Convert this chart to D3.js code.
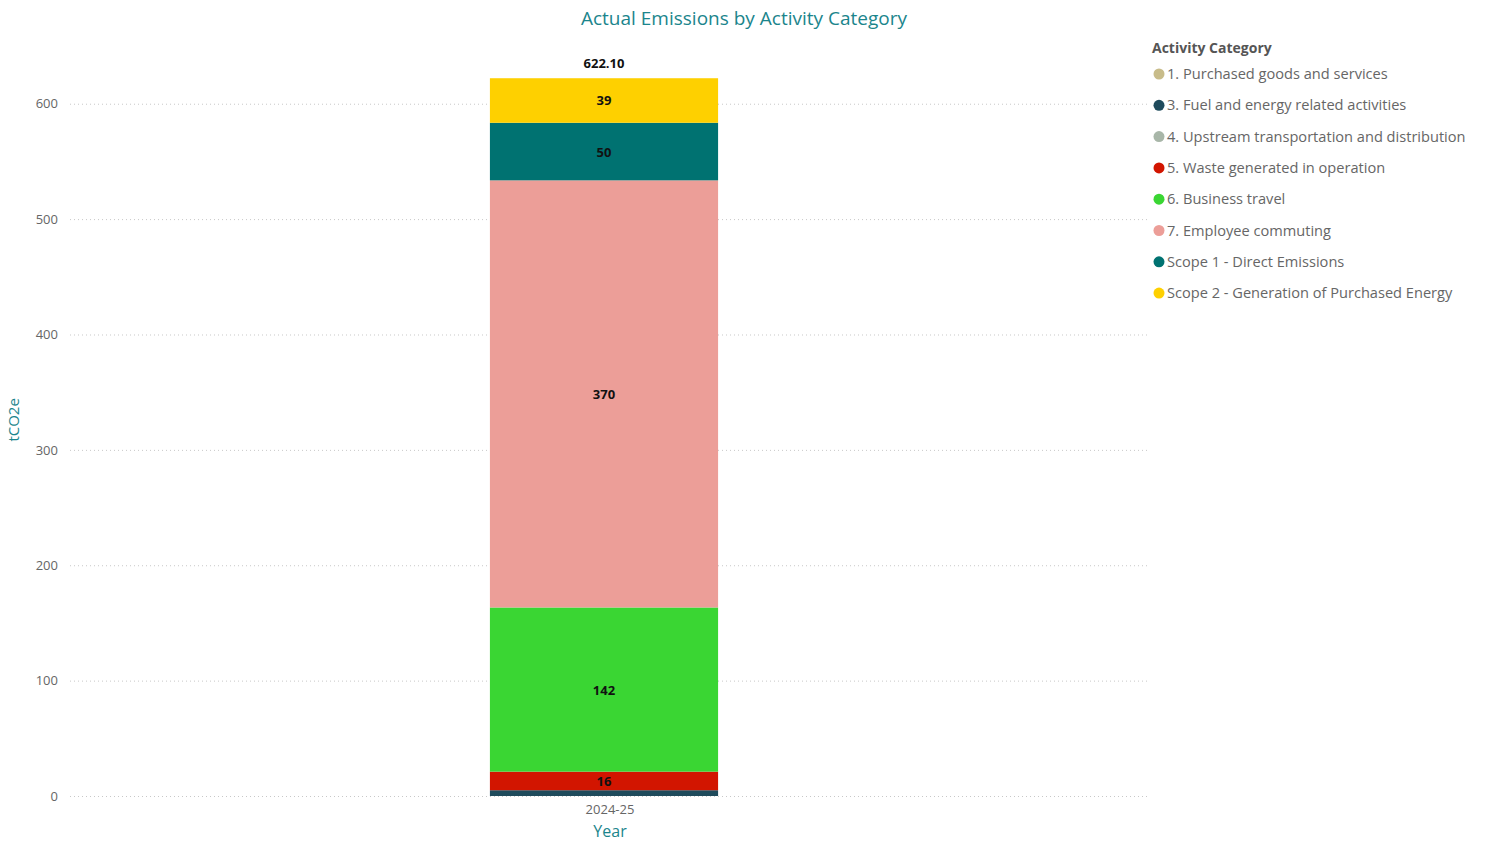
<!DOCTYPE html>
<html>
<head>
<meta charset="utf-8">
<script src="https://cdn.jsdelivr.net/npm/d3@7"></script>
<style>
  body { margin: 0; background: #fff; font-family: 'Open Sans', 'DejaVu Sans', sans-serif; }
  .grid line { stroke: #c8c8c8; stroke-dasharray: 1 3; }
  .grid .domain { display: none; }
</style>
</head>
<body>
<div id="container"></div>
<script>
const years = ['2024-25'];
const categories = [
  '1. Purchased goods and services',
  '3. Fuel and energy related activities',
  '4. Upstream transportation and distribution',
  '5. Waste generated in operation',
  '6. Business travel',
  '7. Employee commuting',
  'Scope 1 - Direct Emissions',
  'Scope 2 - Generation of Purchased Energy',
];
// values for 2024-25, same order as categories
const values = [0, 5.0, 0, 16.1, 142.3, 370.2, 49.9, 38.6];
const colors = ['#c8bc8a', '#1f4b5c', '#a8b6a8', '#d21500', '#3ad633', '#ec9e98', '#007271', '#fed000'];
const yTicks = [0, 100, 200, 300, 400, 500, 600];

const width = 1489;
const height = 841;
const plotLeft = 64;
const plotRight = 1150;
const plotTop = 30;
const plotBottom = 796;

const svg = d3.select('#container')
  .append('svg')
  .attr('width', width)
  .attr('height', height);

const total = d3.sum(values);

const xScale = d3.scaleBand()
  .domain(years)
  .range([plotLeft, plotRight - 6])
  .paddingInner(0.1)
  .paddingOuter(1.68);

const yScale = d3.scaleLinear()
  .domain([0, 663.9])
  .range([plotBottom, plotTop]);

// grid
svg.append('g')
  .attr('class', 'grid')
  .attr('transform', `translate(${plotLeft + 6},0)`)
  .call(d3.axisLeft(yScale).tickValues(yTicks).tickSize(-(plotRight - plotLeft - 6)).tickFormat(''));

// y axis labels
const yAxis = svg.append('g')
  .attr('transform', `translate(${plotLeft - 6},0)`)
  .call(d3.axisLeft(yScale).tickValues(yTicks).tickSize(0).tickPadding(0));
yAxis.select('.domain').remove();
yAxis.selectAll('text')
  .attr('fill', '#666')
  .style('font-size', '13px')
  .style('font-family', "'Open Sans', sans-serif");

svg.append('text')
  .attr('transform', `translate(19,${yScale(300) - 30}) rotate(-90)`)
  .attr('text-anchor', 'middle')
  .attr('fill', '#1b858c')
  .style('font-size', '15px')
  .text('tCO2e');

// x axis
const xAxis = svg.append('g')
  .attr('transform', `translate(6,${plotBottom})`)
  .call(d3.axisBottom(xScale).tickSize(0).tickPadding(9));
xAxis.select('.domain').remove();
xAxis.selectAll('text')
  .attr('fill', '#666')
  .style('font-size', '13px')
  .style('font-family', "'Open Sans', sans-serif");

svg.append('text')
  .attr('x', xScale(years[0]) + xScale.bandwidth() / 2 + 6)
  .attr('y', 837)
  .attr('text-anchor', 'middle')
  .attr('fill', '#1b858c')
  .style('font-size', '16px')
  .text('Year');

// stacked bar
const stacked = [];
let acc = 0;
values.forEach((v, i) => {
  stacked.push({ cat: categories[i], color: colors[i], y0: acc, y1: acc + v, v });
  acc += v;
});

const bars = svg.append('g');
bars.selectAll('rect')
  .data(stacked.filter((d) => d.v > 0))
  .enter()
  .append('rect')
  .attr('x', xScale(years[0]))
  .attr('width', xScale.bandwidth())
  .attr('y', (d) => yScale(d.y1))
  .attr('height', (d) => yScale(d.y0) - yScale(d.y1))
  .attr('fill', (d) => d.color);

bars.selectAll('text')
  .data(stacked.filter((d) => d.v >= 10))
  .enter()
  .append('text')
  .attr('x', xScale(years[0]) + xScale.bandwidth() / 2)
  .attr('y', (d) => (yScale(d.y0) + yScale(d.y1)) / 2 + 5)
  .attr('text-anchor', 'middle')
  .attr('fill', '#111')
  .style('font-size', '13px')
  .style('font-weight', 'bold')
  .text((d) => d3.format('.0f')(d.v));

svg.append('text')
  .attr('x', xScale(years[0]) + xScale.bandwidth() / 2)
  .attr('y', yScale(total) - 10)
  .attr('text-anchor', 'middle')
  .attr('fill', '#111')
  .style('font-size', '13px')
  .style('font-weight', 'bold')
  .text(d3.format('.2f')(total));

// title
svg.append('text')
  .attr('x', 744)
  .attr('y', 25)
  .attr('text-anchor', 'middle')
  .attr('fill', '#1b858c')
  .style('font-size', '19px')
  .text('Actual Emissions by Activity Category');

// legend
const legend = svg.append('g').attr('transform', 'translate(1152,0)');
legend.append('text')
  .attr('x', 0)
  .attr('y', 53)
  .attr('fill', '#555')
  .style('font-size', '14px')
  .style('font-weight', 'bold')
  .text('Activity Category');

const items = legend.selectAll('.item')
  .data(categories)
  .enter()
  .append('g')
  .attr('class', 'item')
  .attr('transform', (d, i) => `translate(0,${74 + i * 31.3})`);
items.append('circle')
  .attr('cx', 7)
  .attr('cy', 0)
  .attr('r', 5.5)
  .attr('fill', (d, i) => colors[i]);
items.append('text')
  .attr('x', 15)
  .attr('y', 5)
  .attr('fill', '#666')
  .style('font-size', '14.6px')
  .text((d) => d);
</script>
</body>
</html>
